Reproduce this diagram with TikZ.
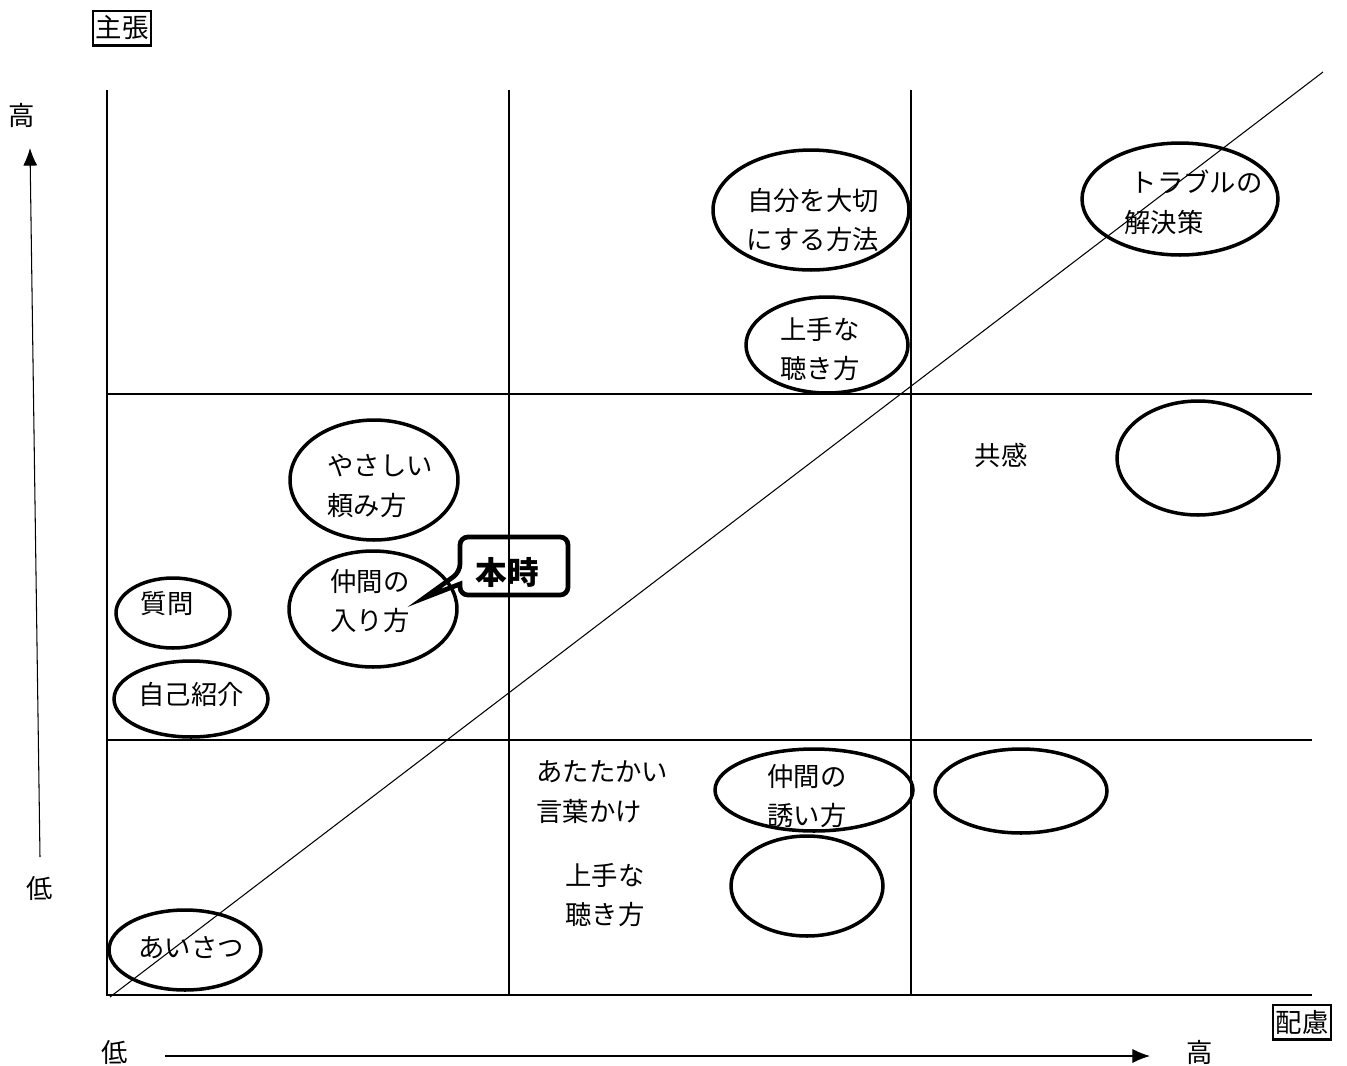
\documentclass[tikz,border=0pt]{standalone}
\usepackage{fontspec}
\newfontfamily\jp{Noto Sans CJK JP}
\usetikzlibrary{shapes.geometric,arrows.meta}
\begin{document}
\begin{tikzpicture}[x=0.02cm,y=-0.02cm,
  every node/.style={font=\jp\fontsize{15}{22.7}\selectfont, inner sep=0pt},
  grid/.style={line width=1.1pt},
  ell/.style={draw, ellipse, line width=2pt, inner sep=0pt},
  lbl/.style={align=center},
  boxlbl/.style={draw, line width=1.3pt, inner xsep=1.5pt, inner ysep=3pt},
  axis/.style={line width=0.6pt, -{Latex[length=10pt,width=8pt]}}]
\useasboundingbox (0,0) rectangle (1347,1066);

% grid
\coordinate (gTL) at (107,90);
\coordinate (gBL) at (107,995);
\coordinate (gBR) at (1312,995);
\coordinate (v1t) at (509,90);
\coordinate (v1b) at (509,995);
\coordinate (v2t) at (911,90);
\coordinate (v2b) at (911,995);
\coordinate (h1l) at (107,394);
\coordinate (h1r) at (1312,394);
\coordinate (h2l) at (107,740);
\coordinate (h2r) at (1312,740);
\draw[grid] (gTL) -- (gBL) -- (gBR);
\draw[grid] (v1t) -- (v1b);
\draw[grid] (v2t) -- (v2b);
\draw[grid] (h1l) -- (h1r);
\draw[grid] (h2l) -- (h2r);

% diagonal
\coordinate (d0) at (110,997);
\coordinate (d1) at (1323,72);
\draw[line width=0.6pt] (d0) -- (d1);

% axes
\coordinate (ya0) at (40,857);
\coordinate (ya1) at (30,148);
\draw[axis] (ya0) -- (ya1);
\coordinate (xa0) at (165,1056);
\coordinate (xa1) at (1150,1056);
\draw[axis] (xa0) -- (xa1);

\node (yhigh) at (22,115) {高};
\node (ylow) at (40,888) {低};
\node (xlow) at (115,1052) {低};
\node (xhigh) at (1200,1052) {高};
\node[boxlbl] (shucho) at (122,28) {主張};
\node[boxlbl] (hairyo) at (1302,1022) {配慮};

% ellipses
\node[ell, minimum width=3.92cm, minimum height=2.24cm] (e1) at (1180,199) {};
\node[align=left, anchor=west] (t1) at (1124,202) {\hspace*{0.13cm}トラブルの\\解決策};

\node[ell, minimum width=3.92cm, minimum height=2.4cm] (e2) at (811,210) {};
\node[lbl] (t2) at (813,220) {自分を大切\\にする方法};

\node[ell, minimum width=3.24cm, minimum height=1.92cm] (e3) at (827,345) {};
\node[lbl] (t3) at (820,349) {上手な\\聴き方};

\node[ell, minimum width=3.24cm, minimum height=2.28cm] (e4) at (1198,458) {};
\node (t4) at (1001,455) {共感};

\node[ell, minimum width=3.36cm, minimum height=2.4cm] (e5) at (374,480) {};
\node[align=left, anchor=west] (t5) at (327,486) {やさしい\\頼み方};

\node[ell, minimum width=3.36cm, minimum height=2.32cm] (e6) at (373,609) {};
\node[lbl] (t6) at (370,601) {仲間の\\入り方};

\node[ell, minimum width=2.28cm, minimum height=1.4cm] (e7) at (173,613) {};
\node (t7) at (167,604) {質問};

\node[ell, minimum width=3.08cm, minimum height=1.52cm] (e8) at (191,699) {};
\node (t8) at (191,694) {自己紹介};

\node[align=left, anchor=west] (t9) at (536,792) {あたたかい\\言葉かけ};

\node[ell, minimum width=3.96cm, minimum height=1.64cm] (e10) at (814,790) {};
\node[lbl] (t10) at (807,796) {仲間の\\誘い方};

\node[ell, minimum width=3.44cm, minimum height=1.68cm] (e11) at (1021,791) {};

\node[align=left, anchor=west] (t12) at (565,895) {上手な\\聴き方};

\node[ell, minimum width=3.04cm, minimum height=2.0cm] (e13) at (807,886) {};

\node[ell, minimum width=3.04cm, minimum height=1.6cm] (e14) at (185,950) {};
\node (t14) at (191,948) {あいさつ};

% callout
\coordinate (c1) at (460,572);
\coordinate (c2) at (460,537);
\coordinate (c3) at (568,537);
\coordinate (c4) at (568,595);
\coordinate (c5) at (460,595);
\coordinate (c6) at (460,584);
\coordinate (ctip) at (424,598);
\draw[line width=2.7pt, line join=miter, rounded corners=4.5pt] (c6) -- (c5) -- (c4) -- (c3) -- (c2) -- (c1) [sharp corners] -- (ctip) -- cycle;
\node[font=\jp\bfseries\fontsize{18}{22}\selectfont] (honji) at (507,572) {本時};
\end{tikzpicture}
\end{document}
